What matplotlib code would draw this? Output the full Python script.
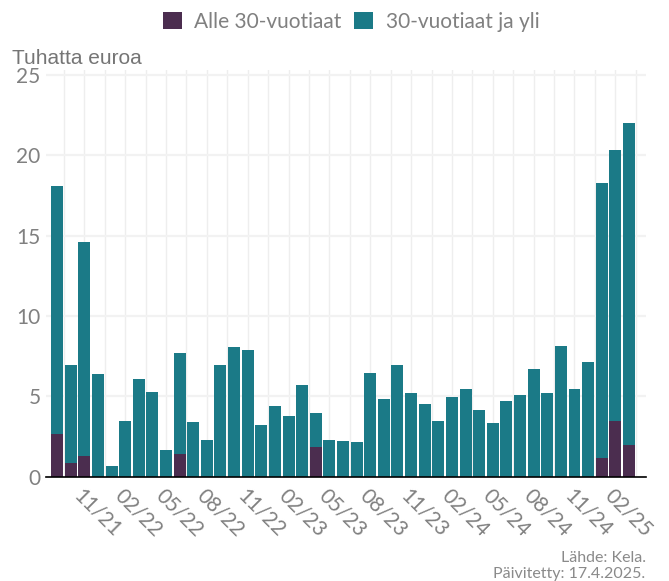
import numpy as np
import matplotlib.pyplot as plt

# Kuukaudet 09/21 - 03/25
kuukaudet = ['09/21', '10/21', '11/21', '12/21', '01/22', '02/22', '03/22', '04/22',
             '05/22', '06/22', '07/22', '08/22', '09/22', '10/22', '11/22', '12/22',
             '01/23', '02/23', '03/23', '04/23', '05/23', '06/23', '07/23', '08/23',
             '09/23', '10/23', '11/23', '12/23', '01/24', '02/24', '03/24', '04/24',
             '05/24', '06/24', '07/24', '08/24', '09/24', '10/24', '11/24', '12/24',
             '01/25', '02/25', '03/25']

# Tuhatta euroa
alle30 = [2.65, 0.85, 1.28, 0, 0, 0, 0, 0, 0, 1.40, 0, 0, 0, 0, 0, 0, 0, 0, 0,
          1.85, 0, 0, 0, 0, 0, 0, 0, 0, 0, 0, 0, 0, 0, 0, 0, 0, 0, 0, 0, 0,
          1.16, 3.46, 1.97]
yhteensa = [18.08, 6.94, 14.58, 6.38, 0.66, 3.46, 6.06, 5.27, 1.66, 7.68, 3.40,
            2.28, 6.94, 8.06, 7.88, 3.21, 4.39, 3.77, 5.70, 3.96, 2.28, 2.22,
            2.16, 6.43, 4.83, 6.94, 5.19, 4.51, 3.46, 4.96, 5.45, 4.14, 3.34,
            4.70, 5.08, 6.68, 5.19, 8.12, 5.45, 7.13, 18.25, 20.30, 21.98]

yli30 = np.array(yhteensa) - np.array(alle30)
x = np.arange(1, len(kuukaudet) + 1)

vari_alle = '#4b2d4f'
vari_yli = '#1b7a87'
harmaa = '#808080'

fig = plt.figure(figsize=(6.69, 5.81), dpi=100)
ax = fig.add_axes([0.0688, 0.1795, 0.8968, 0.7002])

ax.bar(x, alle30, width=0.88, color=vari_alle, label='Alle 30-vuotiaat', zorder=2)
ax.bar(x, yli30, width=0.88, bottom=alle30, color=vari_yli,
       label='30-vuotiaat ja yli', zorder=2)

ax.set_xlim(0.19, 44.25)
ax.set_ylim(0, 25.3)

# Ruudukko
ax.set_yticks([0, 5, 10, 15, 20, 25])
ax.set_yticklabels(['0', '5', '10', '15', '20', '25'])
ax.set_xticks(np.arange(3, 44, 3))
ax.set_xticklabels(kuukaudet[2::3])
ax.set_xticks(np.arange(1.5, 44, 3), minor=True)
ax.grid(True, which='both', axis='x', color='#eeeeee', linewidth=1.0, zorder=0)
ax.grid(True, which='major', axis='y', color='#f2f2f2', linewidth=1.6, zorder=0)

for s in ['top', 'right', 'left']:
    ax.spines[s].set_visible(False)
ax.spines['bottom'].set_color('black')
ax.spines['bottom'].set_linewidth(1.2)
ax.spines['bottom'].set_zorder(3)

ax.tick_params(axis='both', which='both', length=0)
ax.tick_params(axis='y', labelsize=15, labelcolor=harmaa, pad=4)
for lab in ax.get_yticklabels():
    lab.set_fontfamily('Lato')
ax.tick_params(axis='x', labelsize=15, labelcolor=harmaa, pad=6)
for lab in ax.get_xticklabels():
    lab.set_fontfamily('Lato')
    lab.set_rotation(-45)
    lab.set_ha('left')
    lab.set_va('top')
    lab.set_rotation_mode('anchor')

fig.text(0.018, 0.883, 'Tuhatta euroa', fontsize=15, color='#757575',
         family='Liberation Sans', va='bottom')

fig.legend(loc='upper center', bbox_to_anchor=(0.525, 1.012), ncol=2, frameon=False,
           handlelength=0.9, handleheight=0.9, handletextpad=0.6,
           columnspacing=0.6, prop={'family': 'Lato', 'size': 15},
           labelcolor=harmaa)

fig.text(0.965, 0.0, 'Lähde: Kela.\nPäivitetty: 17.4.2025.', fontsize=11.5,
         color='#8a8a8a', family='Lato', ha='right', va='bottom', linespacing=1.15)

fig.savefig('out.png', dpi=100)
